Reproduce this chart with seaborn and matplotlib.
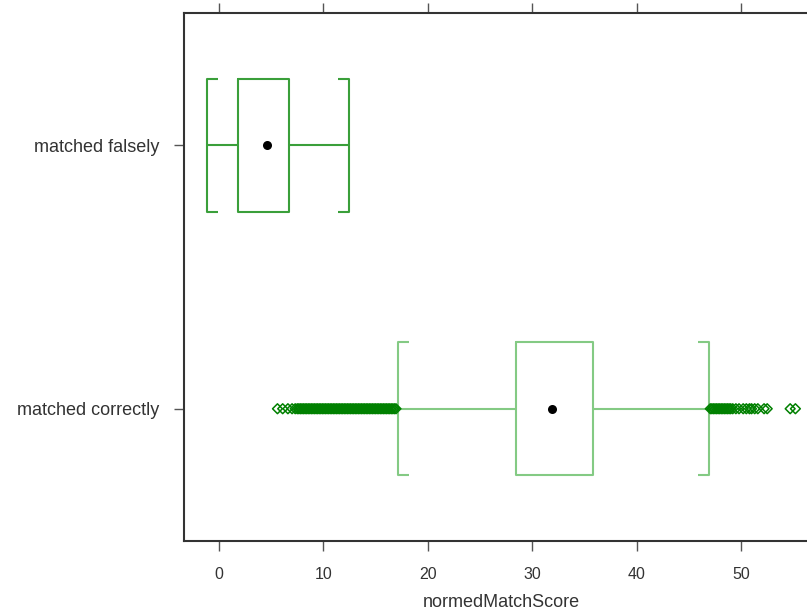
import numpy as np
import pandas as pd
import matplotlib
matplotlib.use("Agg")
import matplotlib.pyplot as plt
import seaborn as sns

# ---- data ----
categories = ["matched falsely", "matched correctly"]
whisker_low = [-1.15, 17.1]
q1 = [1.8, 28.45]
medians = [4.6, 31.9]
q3 = [6.7, 35.8]
whisker_high = [12.45, 46.9]

outliers_low_correct = [5.6, 6.1, 6.6, 7.0, 7.3, 7.5, 7.65, 7.8, 7.95, 8.1, 8.25, 8.4,
                        8.55, 8.7, 8.85, 9.0, 9.15, 9.3, 9.45, 9.6, 9.75, 9.9, 10.05,
                        10.2, 10.35, 10.5, 10.65, 10.8, 10.95, 11.1, 11.25, 11.4, 11.55,
                        11.7, 11.85, 12.0, 12.15, 12.3, 12.45, 12.6, 12.75, 12.9, 13.05,
                        13.2, 13.35, 13.5, 13.65, 13.8, 13.95, 14.1, 14.25, 14.4, 14.55,
                        14.7, 14.85, 15.0, 15.15, 15.3, 15.45, 15.6, 15.75, 15.9, 16.05,
                        16.2, 16.35, 16.5, 16.65, 16.8, 16.95]
outliers_high_correct = [47.05, 47.2, 47.35, 47.5, 47.65, 47.8, 47.95, 48.1, 48.25,
                         48.4, 48.55, 48.7, 48.85, 49.0, 49.2, 49.5, 49.8, 50.2, 50.5,
                         50.8, 51.0, 51.3, 51.6, 52.2, 52.5, 54.7, 55.2]

x_ticks = [0, 10, 20, 30, 40, 50]
x_label = "normedMatchScore"

sns.set_theme(style="ticks")
plt.rcParams["font.family"] = ["Liberation Sans", "DejaVu Sans"]

# five-number summary per group -> boxplot reproduces exactly these values
summary = pd.DataFrame({
    "group": np.repeat(categories, 5),
    "score": np.concatenate([[whisker_low[i], q1[i], medians[i], q3[i], whisker_high[i]]
                             for i in range(len(categories))]),
})

box_width = 0.504
box_colors = {"matched falsely": "#3A9F3A", "matched correctly": "#84CA84"}

fig = plt.figure(figsize=(8.07, 6.15), dpi=100)
ax = fig.add_axes([0.228, 0.1203, 0.787, 0.8586])

sns.boxplot(data=summary, x="score", y="group", hue="group", order=categories,
            hue_order=categories, palette=box_colors, orient="h", whis=(0, 100),
            width=box_width, fill=False, linewidth=1.5, legend=False,
            showfliers=False, medianprops={"visible": False},
            capwidths=box_width, ax=ax)

# bracket stubs at the whisker ends
stub = 1.05
for i, cat in enumerate(categories):
    col = box_colors[cat]
    for yy in (i - box_width / 2, i + box_width / 2):
        ax.hlines(yy, whisker_low[i], whisker_low[i] + stub, color=col, lw=1.5)
        ax.hlines(yy, whisker_high[i] - stub, whisker_high[i], color=col, lw=1.5)

# outliers (open green diamonds)
n_before = len(ax.collections)
outl = outliers_low_correct + outliers_high_correct
sns.stripplot(x=outl, y=["matched correctly"] * len(outl), order=categories,
              orient="h", jitter=False, marker="D", size=5.0, color="#008000",
              edgecolor="#008000", linewidth=1.1, ax=ax)
for coll in ax.collections[n_before:]:
    coll.set_facecolor("none")

# medians (black dots)
sns.stripplot(x=medians, y=categories, order=categories, orient="h", jitter=False,
              marker="o", size=6.5, color="black", linewidth=0, ax=ax)

ax.set_xlim(-3.35, 57.47)
ax.set_ylim(1.502, -0.502)
ax.set_xticks(x_ticks)
ax.set_xticklabels([str(t) for t in x_ticks])
ax.tick_params(axis="x", top=True, bottom=True, direction="out", length=7, width=1,
               color="#555555", pad=12, labelsize=11.5, labelcolor="#333333")
ax.tick_params(axis="y", left=True, right=False, direction="out", length=7, width=1,
               color="#555555", pad=11, labelsize=13, labelcolor="#333333")
for s in ax.spines.values():
    s.set_visible(True)
    s.set_color("#333333")
    s.set_linewidth(1.5)
ax.set_xlabel(x_label, fontsize=13, color="#333333", labelpad=8)
ax.set_ylabel("")

fig.savefig("out.png", dpi=100)
